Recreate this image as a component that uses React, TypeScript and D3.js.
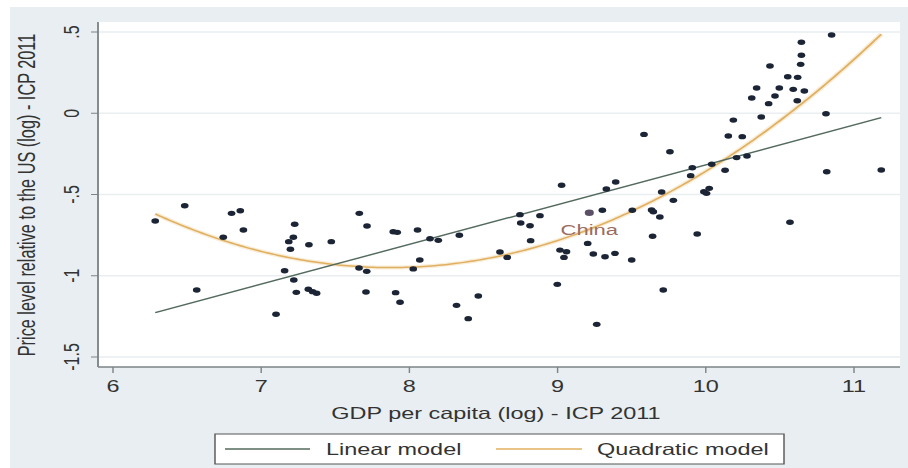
import React from "react";
import * as d3 from "d3";

// ---- data ----
const gdpLog: number[] = [
  6.285, 6.484, 6.565, 6.8, 6.859, 6.88, 6.744, 7.226, 7.217, 7.186,
  7.197, 7.158, 7.22, 7.237, 7.1, 7.322, 7.473, 7.662, 7.714, 7.891,
  7.918, 8.055, 8.139, 8.195, 8.337, 8.07, 7.66, 7.712, 8.026, 7.318,
  7.347, 7.374, 7.707, 7.907, 7.937, 8.318, 8.397, 8.465, 9.758, 9.027,
  9.329, 9.392, 9.702, 9.781, 8.746, 8.881, 8.751, 8.814, 9.302, 9.504,
  9.634, 9.646, 9.69, 8.818, 8.611, 8.66, 9.016, 9.06, 9.043, 9.203,
  9.241, 9.32, 9.387, 9.5, 9.641, 8.998, 9.713, 9.264, 10.849, 10.645,
  10.645, 10.64, 10.433, 10.553, 10.62, 10.343, 10.496, 10.59, 10.665, 10.467,
  10.31, 10.424, 10.617, 10.811, 10.374, 10.186, 10.152, 10.246, 10.208, 10.278,
  10.04, 9.909, 9.898, 10.13, 10.816, 11.184, 9.987, 10.023, 10.005, 9.942,
  10.568, 9.583,
];
const priceLog: number[] = [
  -0.663, -0.569, -1.088, -0.616, -0.6, -0.718, -0.763, -0.683, -0.763, -0.79,
  -0.837, -0.969, -1.026, -1.102, -1.237, -0.809, -0.79, -0.616, -0.694, -0.729,
  -0.733, -0.718, -0.772, -0.782, -0.751, -0.903, -0.952, -0.973, -0.958, -1.083,
  -1.098, -1.108, -1.1, -1.104, -1.163, -1.182, -1.264, -1.125, -0.237, -0.443,
  -0.466, -0.423, -0.485, -0.536, -0.624, -0.63, -0.675, -0.692, -0.597, -0.597,
  -0.595, -0.606, -0.638, -0.784, -0.854, -0.887, -0.842, -0.852, -0.887, -0.801,
  -0.866, -0.883, -0.862, -0.903, -0.757, -1.053, -1.088, -1.299, 0.482, 0.437,
  0.357, 0.301, 0.291, 0.225, 0.221, 0.155, 0.155, 0.147, 0.137, 0.106,
  0.094, 0.059, 0.077, -0.003, -0.023, -0.042, -0.14, -0.144, -0.273, -0.263,
  -0.314, -0.335, -0.384, -0.351, -0.36, -0.349, -0.483, -0.462, -0.493, -0.743,
  -0.671, -0.13,
];
const labelledName = "China";
const labelledGdp = 9.214;
const labelledPrice = -0.612;

// fitted models: y = c0 + c1 x (+ c2 x^2)
const linearCoef: number[] = [-2.766, 0.2449];
const quadCoef: number[] = [7.17, -2.0627, 0.131];

const xTicks: number[] = [6, 7, 8, 9, 10, 11];
const yTicks: number[] = [0.5, 0, -0.5, -1, -1.5];
const yTickLabels: string[] = [".5", "0", "-.5", "-1", "-1.5"];

const xTitle = "GDP per capita (log) - ICP 2011";
const yTitle = "Price level relative to the US (log) - ICP 2011";
const legendLabels: string[] = ["Linear model", "Quadratic model"];

// ---- layout (image is stretched horizontally) ----
const W = 908;
const H = 468;
const SX = 1.42;
const VW = W / SX;
const px = (v: number) => v / SX; // image px -> viewBox x

const FONT = "'Liberation Sans', Arial, Helvetica, sans-serif";
const BG = "#e8eef1";
const AXIS = "#7d8386";
const GRID = "#e9eef1";
const DOT = "#1c2536";
const LIN = "#536a5e";
const QUAD = "#e0b062";

export default function App() {
  const x = d3.scaleLinear().domain([6, 11]).range([px(113), px(854)]);
  const y = d3.scaleLinear().domain([-1.5, 0.5]).range([357, 32]);

  const plotL = px(98);
  const plotR = px(900);
  const plotT = 22;
  const plotB = 367;

  const xMin = d3.min([...gdpLog, labelledGdp]) as number;
  const xMax = d3.max([...gdpLog, labelledGdp]) as number;
  const samples = d3.range(0, 201).map((i) => xMin + ((xMax - xMin) * i) / 200);

  const line = d3
    .line<[number, number]>()
    .x((d) => x(d[0]))
    .y((d) => y(d[1]));

  const linPts: [number, number][] = [xMin, xMax].map((v) => [v, linearCoef[0] + linearCoef[1] * v]);
  const quadPts: [number, number][] = samples.map((v) => [
    v,
    quadCoef[0] + quadCoef[1] * v + quadCoef[2] * v * v,
  ]);

  const pts = gdpLog.map((g, i) => ({ g, p: priceLog[i] }));

  return (
    <svg
      width={W}
      height={H}
      viewBox={`0 0 ${VW} ${H}`}
      preserveAspectRatio="none"
      style={{ position: "absolute", left: 0, top: 0, display: "block" }}
      fontFamily={FONT}
    >
      <rect x={0} y={0} width={VW} height={H} fill="#ffffff" />
      <rect x={px(10)} y={7} width={VW - px(10)} height={H - 7} fill={BG} />
      <rect x={plotL} y={plotT} width={plotR - plotL} height={plotB - plotT} fill="#ffffff" />

      {/* grid */}
      {yTicks.map((t) => (
        <line key={"g" + t} x1={plotL} x2={plotR} y1={y(t)} y2={y(t)} stroke={GRID} strokeWidth={1.3} />
      ))}

      {/* fitted lines */}
      <path d={line(quadPts) || ""} fill="none" stroke="#f3dcb0" strokeWidth={4} strokeOpacity={0.5} />
      <path d={line(quadPts) || ""} fill="none" stroke={QUAD} strokeWidth={1.5} />
      <path d={line(linPts) || ""} fill="none" stroke={LIN} strokeWidth={1.4} />

      {/* points */}
      {pts.map((d, i) => (
        <circle key={i} cx={x(d.g)} cy={y(d.p)} r={2.7} fill={DOT} />
      ))}
      <circle cx={x(labelledGdp)} cy={y(labelledPrice)} r={3.2} fill="#5b5066" />
      <text
        x={x(labelledGdp)}
        y={y(labelledPrice) + 22}
        textAnchor="middle"
        fontSize={15.5}
        fill="#9b6b62"
      >
        {labelledName}
      </text>

      {/* axes */}
      <line x1={plotL} x2={plotL} y1={plotT} y2={plotB} stroke={AXIS} strokeWidth={1.3} />
      <line x1={plotL} x2={plotR} y1={plotB} y2={plotB} stroke={AXIS} strokeWidth={1.3} />
      {yTicks.map((t, i) => (
        <g key={"y" + t}>
          <line x1={px(91)} x2={plotL} y1={y(t)} y2={y(t)} stroke={AXIS} strokeWidth={1} />
          <text
            transform={`translate(${px(79)},${y(t)}) rotate(-90)`}
            textAnchor="middle"
            fontSize={16}
            fill="#333"
          >
            {yTickLabels[i]}
          </text>
        </g>
      ))}
      {xTicks.map((t) => (
        <g key={"x" + t}>
          <line x1={x(t)} x2={x(t)} y1={plotB} y2={plotB + 6} stroke={AXIS} strokeWidth={1} />
          <text x={x(t)} y={392} textAnchor="middle" fontSize={16.5} fill="#333">
            {t}
          </text>
        </g>
      ))}

      {/* axis titles */}
      <text x={px(496)} y={419} textAnchor="middle" fontSize={16.5} fill="#333">
        {xTitle}
      </text>
      <text
        transform={`translate(${px(35)},${195}) rotate(-90)`}
        textAnchor="middle"
        fontSize={16.3}
        fill="#333"
      >
        {yTitle}
      </text>

      {/* legend */}
      <rect
        x={px(215)}
        y={434}
        width={px(784) - px(215)}
        height={30}
        fill="#ffffff"
        stroke="#555"
        strokeWidth={1}
      />
      <line x1={px(225)} x2={px(310)} y1={449} y2={449} stroke={LIN} strokeWidth={1.4} />
      <text x={px(326)} y={455} fontSize={16.5} fill="#333">
        {legendLabels[0]}
      </text>
      <line x1={px(496)} x2={px(582)} y1={449} y2={449} stroke={QUAD} strokeWidth={1.5} />
      <text x={px(597)} y={455} fontSize={16.5} fill="#333">
        {legendLabels[1]}
      </text>
    </svg>
  );
}
